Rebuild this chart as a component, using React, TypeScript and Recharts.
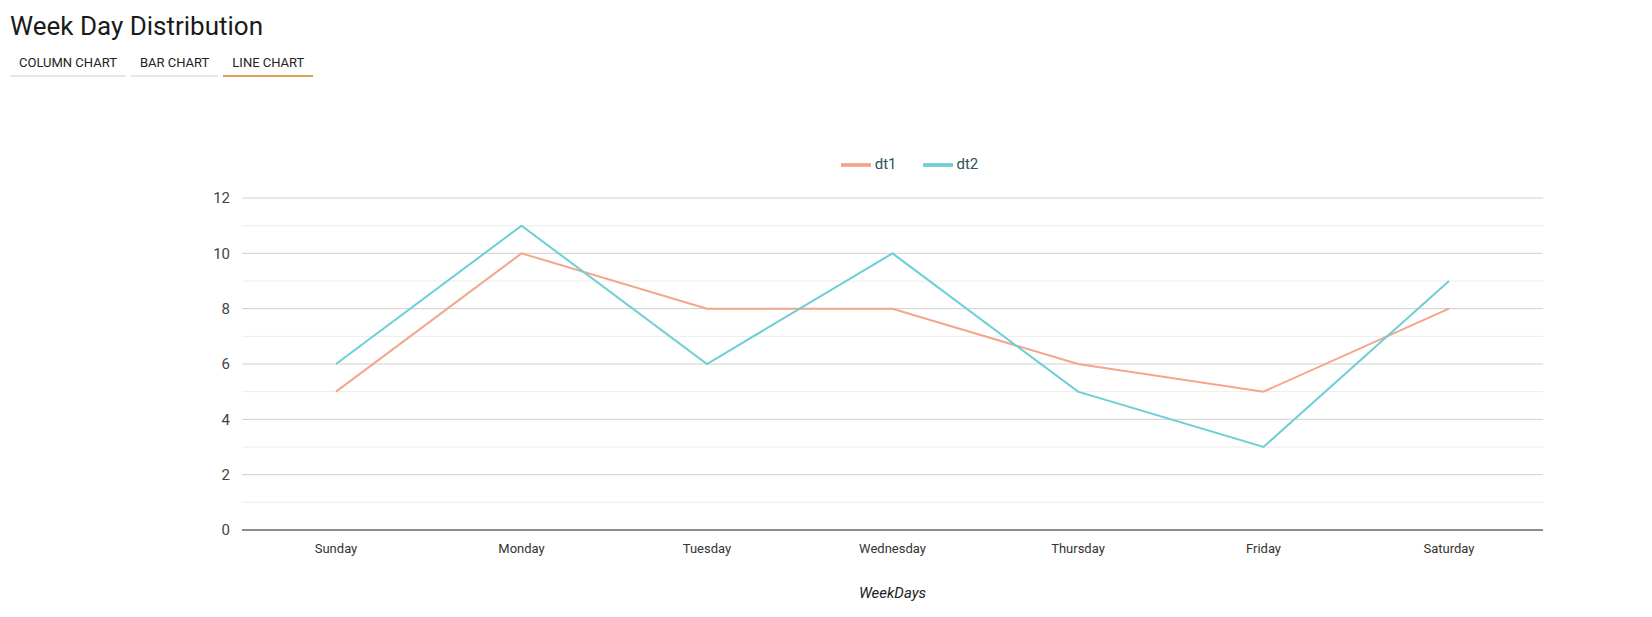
import React from 'react';
import { LineChart, Line, XAxis, YAxis, CartesianGrid, Legend, ReferenceLine } from 'recharts';

const days = ['Sunday', 'Monday', 'Tuesday', 'Wednesday', 'Thursday', 'Friday', 'Saturday'];
const dt1 = [5, 10, 8, 8, 6, 5, 8];
const dt2 = [6, 11, 6, 10, 5, 3, 9];
const majorTicks = [0, 2, 4, 6, 8, 10, 12];
const minorTicks = [1, 3, 5, 7, 9, 11];
const tabs = ['COLUMN CHART', 'BAR CHART', 'LINE CHART'];

const data = days.map((d, i) => ({ day: d, dt1: dt1[i], dt2: dt2[i] }));

export default function App() {
    return (
        <div style={{ position: 'relative', width: 1636, height: 600, fontFamily: 'Roboto, sans-serif' }}>
            <div style={{ position: 'absolute', left: 2, top: 3, fontSize: 26, color: '#1a1a1a' }}>Week Day Distribution</div>
            <div style={{ position: 'absolute', left: 2, top: 40, display: 'flex', gap: 5 }}>
                {tabs.map((t, i) => (
                    <div key={t} style={{
                        fontSize: 13, color: '#222', padding: '7px 9px 5px',
                        borderBottom: i === 2 ? '2px solid #e0a050' : '2px solid #e6e6e6',
                    }}>{t}</div>
                ))}
            </div>
            <div style={{ position: 'absolute', left: 0, top: 100 }}>
                <LineChart width={1636} height={497} data={data} margin={{ top: 60, right: 101, left: 174, bottom: 0 }}>
                    <CartesianGrid vertical={false} stroke="#d0d0d0" />
                    {minorTicks.map(v => (
                        <ReferenceLine key={v} y={v} stroke="#ececec" />
                    ))}
                    <XAxis dataKey="day" tickLine={false} stroke="#333" tick={{ fill: '#333', fontSize: 13 }} tickMargin={8} height={75}
                        padding={{ left: 94, right: 94 }}
                        label={{ value: 'WeekDays', position: 'insideBottom', offset: 7, fontStyle: 'italic', fill: '#222', fontSize: 15 }} />
                    <YAxis domain={[0, 12]} ticks={majorTicks} axisLine={false} tickLine={false} width={60}
                        tick={{ fill: '#444', fontSize: 15 }} tickMargin={6} />
                    <Legend verticalAlign="top" align="center" iconType="plainline" iconSize={30}
                        wrapperStyle={{ top: 42, left: 234, fontSize: 15 }}
                        formatter={(v: string) => <span style={{ color: '#2d5555', marginRight: 16 }}>{v}</span>} />
                    <Line type="linear" dataKey="dt1" stroke="#f4a58a" strokeWidth={2} dot={false} isAnimationActive={false} />
                    <Line type="linear" dataKey="dt2" stroke="#6ccfd4" strokeWidth={2} dot={false} isAnimationActive={false} />
                </LineChart>
            </div>
        </div>
    );
}
